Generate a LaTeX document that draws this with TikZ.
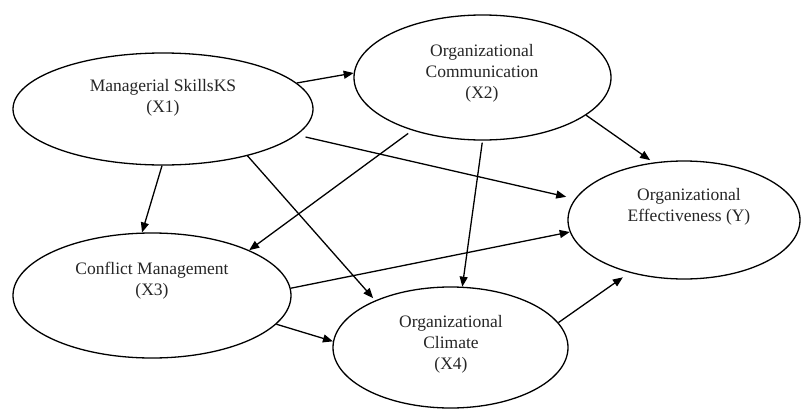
\documentclass[tikz,border=0pt]{standalone}
\usepackage{fontspec}
\setmainfont{Liberation Serif}
\usetikzlibrary{shapes.geometric,arrows.meta}
\begin{document}
\begin{tikzpicture}[x=1pt,y=-1pt,
  latent/.style={ellipse,draw,line width=1.3pt,inner sep=0pt},
  lbl/.style={align=center,font=\fontsize{17.5}{21}\selectfont,text=black!85},
  pathway/.style={line width=1.3pt,-{Triangle[length=10pt,width=8pt]}}]
\useasboundingbox[fill=white] (0,0) rectangle (801,410);
% latent variables
\node[latent,minimum width=300pt,minimum height=112pt] (x1) at (163,109) {};
\node[latent,minimum width=257pt,minimum height=125pt] (x2) at (482.5,77.5) {};
\node[latent,minimum width=278pt,minimum height=125pt] (x3) at (152,295.5) {};
\node[latent,minimum width=235pt,minimum height=121pt] (x4) at (450.5,347.5) {};
\node[latent,minimum width=232pt,minimum height=118pt] (y) at (684,220) {};
% labels
\node[lbl] (t1) at (163,98) {Managerial SkillsKS\\(X1)};
\node[lbl] (t2) at (482,73) {Organizational\\Communication\\(X2)};
\node[lbl] (t3) at (152,281) {Conflict Management\\(X3)};
\node[lbl] (t4) at (451,344) {Organizational\\Climate\\(X4)};
\node[lbl] (ty) at (689,207) {Organizational\\Effectiveness (Y)};
% paths
\draw[pathway] (x1.11) -- (x2.178);
\draw[pathway] (x1.-91) -- (x3.99);
\draw[pathway,shorten >=3pt] (x1.-29.5) -- (x4.148);
\draw[pathway,shorten <=9pt,shorten >=9pt] (x1.-11) -- (y.169);
\draw[pathway,shorten <=5pt] (x2.217) -- (x3.25);
\draw[pathway,shorten <=2pt] (x2.-90) -- (x4.79);
\draw[pathway,shorten >=4pt] (x2.-20) -- (y.118);
\draw[pathway] (x3.3.5) -- (y.186);
\draw[pathway] (x3.-13.6) -- (x4.177);
\draw[pathway,shorten >=8pt] (x4.13) -- (y.224);
\end{tikzpicture}
\end{document}
